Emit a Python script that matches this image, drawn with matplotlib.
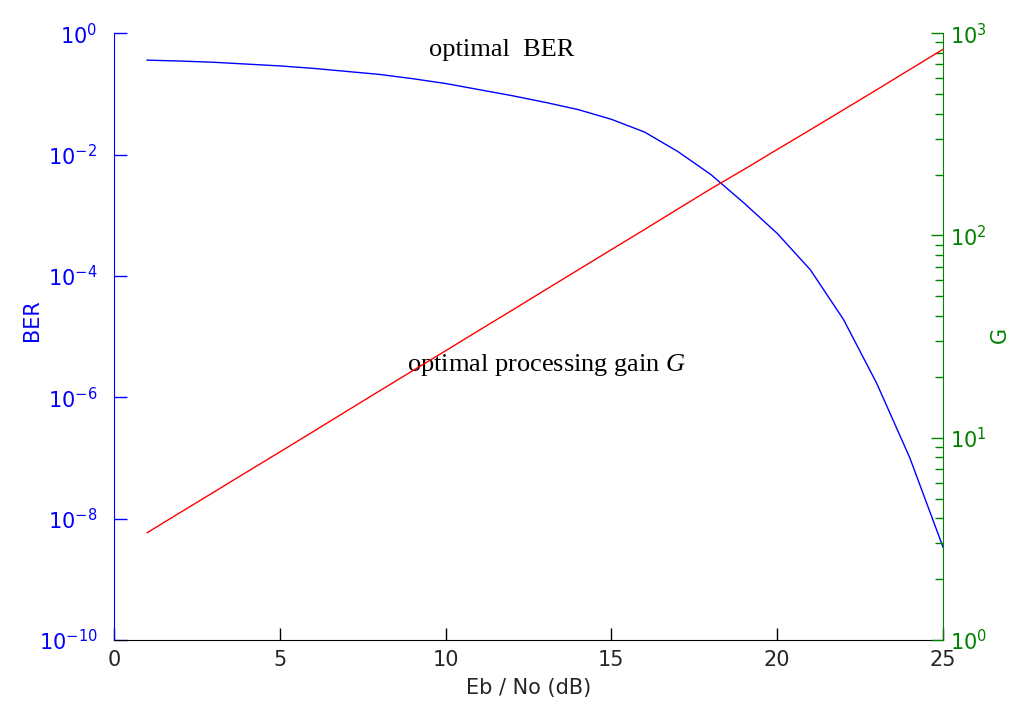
import numpy as np
import matplotlib
matplotlib.use('Agg')
import matplotlib.pyplot as plt
from matplotlib.ticker import NullLocator

# Eb/No in dB
ebno = [1, 2, 3, 4, 5, 6, 7, 8, 9, 10, 11, 12, 13,
        14, 15, 16, 17, 18, 19, 20, 21, 22, 23, 24, 25]
# log10 of optimal BER
log_ber = [-0.445, -0.46, -0.48, -0.51, -0.54, -0.58, -0.63, -0.68, -0.75,
           -0.83, -0.93, -1.03, -1.14, -1.26, -1.42, -1.63, -1.95, -2.33,
           -2.80, -3.30, -3.90, -4.72, -5.77, -7.00, -8.47]
# optimal processing gain G
gain = [3.39, 4.27, 5.37, 6.76, 8.5, 10.7, 13.5, 17.0, 21.4, 26.9, 33.9, 42.6,
        53.7, 67.6, 85.1, 107, 135, 170, 212, 266, 333, 418, 525, 661, 832]

blue = (0, 0, 1)
green = (0, 0.5, 0)
red = (1, 0, 0)
dark = (0.15, 0.15, 0.15)

plt.rcParams['font.family'] = 'DejaVu Sans'
plt.rcParams['mathtext.default'] = 'regular'
plt.rcParams['mathtext.fontset'] = 'custom'
plt.rcParams['mathtext.it'] = 'Liberation Serif:italic'
plt.rcParams['mathtext.rm'] = 'DejaVu Sans'

fig = plt.figure(figsize=(10.14, 7.05), dpi=100)
ax = fig.add_axes([0.1124, 0.0922, 0.8176, 0.8608])
ax2 = ax.twinx()

ber = 10 ** np.array(log_ber)
ax.plot(ebno, ber, color=blue, lw=1.0)
ax.set_yscale('log')
ax.set_ylim(1e-10, 1)
ax.set_xlim(0, 25)
ax.set_xticks([0, 5, 10, 15, 20, 25])
ax.set_yticks([1e-10, 1e-8, 1e-6, 1e-4, 1e-2, 1])
ax.yaxis.set_minor_locator(NullLocator())
ax.set_ylabel('BER', color=blue, fontsize=15)
ax.yaxis.set_label_coords(-0.087, 0.527)
ax.set_xlabel('Eb / No (dB)', color=dark, fontsize=15, labelpad=6)

ax2.plot(ebno, gain, color=red, lw=1.0)
ax2.set_yscale('log')
ax2.set_ylim(1, 1000)
ax2.set_ylabel('G', color=green, fontsize=15, rotation=90)
ax2.yaxis.set_label_coords(1.056, 0.502)

for s in ['top', 'right']:
    ax.spines[s].set_visible(False)
ax.spines['left'].set_color(blue)
ax.spines['bottom'].set_color('black')
for s in ['top', 'left', 'bottom']:
    ax2.spines[s].set_visible(False)
ax2.spines['right'].set_color(green)

ax.tick_params(axis='x', direction='in', length=9, width=1, colors='black',
               labelcolor=dark, labelsize=15, pad=7)
ax.tick_params(axis='y', direction='in', length=9, width=1, colors=blue,
               labelsize=15, pad=12)
ax2.tick_params(axis='y', which='major', direction='in', length=9, width=1,
                colors=green, labelsize=15, pad=5)
ax2.tick_params(axis='y', which='minor', direction='in', length=6, width=1,
                colors=green)

ax.text(0.468, 0.972, 'optimal  BER', transform=ax.transAxes, ha='center',
        va='center', fontsize=19, family='Liberation Serif')
ax.text(0.353, 0.453, 'optimal processing gain $\\mathit{G}$', transform=ax.transAxes,
        ha='left', va='center', fontsize=19, family='Liberation Serif')

fig.savefig('out.png', dpi=100)
